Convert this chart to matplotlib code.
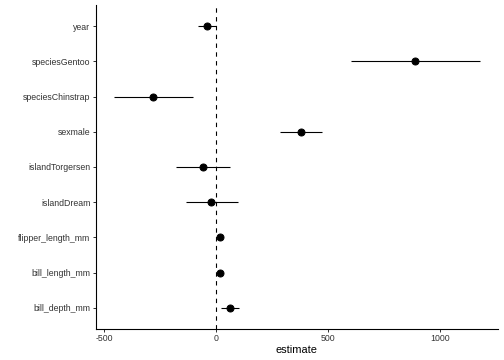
import matplotlib
matplotlib.use("Agg")
import matplotlib.pyplot as plt

terms = ["year", "speciesGentoo", "speciesChinstrap", "sexmale", "islandTorgersen",
         "islandDream", "flipper_length_mm", "bill_length_mm", "bill_depth_mm"]
estimate = [-42, 886, -283, 377, -58, -22, 18, 18, 60]
conf_low = [-83, 600, -457, 283, -181, -136, 10, 8, 20]
conf_high = [1, 1176, -105, 473, 62, 96, 26, 28, 100]
xticks = [-500, 0, 500, 1000]

plt.rcParams['font.family'] = ['Liberation Sans', 'DejaVu Sans']

fig = plt.figure(figsize=(7, 5), dpi=72)
ax = fig.add_axes([95.5/504, 31/360, (498-95.5)/504, (355-31)/360])

n = len(terms)
ypos = [n - i for i in range(n)]

ax.axvline(0, color='black', linestyle=(0, (4, 4)), linewidth=1.1, zorder=1)
ax.hlines(ypos, conf_low, conf_high, color='black', linewidth=1.1, zorder=2)
ax.plot(estimate, ypos, 'o', color='black', markersize=7, zorder=3)

xmin = min(conf_low); xmax = max(conf_high)
pad = (xmax - xmin) * 0.05
ax.set_xlim(xmin - pad, xmax + pad)
ax.set_ylim(0.4, n + 0.6)
ax.set_yticks(ypos)
ax.set_yticklabels(terms)
ax.set_xticks(xticks)
ax.set_xticklabels([str(v) for v in xticks])

for s in ['top', 'right']:
    ax.spines[s].set_visible(False)
for s in ['left', 'bottom']:
    ax.spines[s].set_linewidth(1.1)
    ax.spines[s].set_color('black')

ax.tick_params(axis='both', colors='#333333', labelsize=8.8, length=2.75, width=1.0, pad=2.2)
ax.tick_params(axis='both', color='#333333')
ax.set_xlabel('estimate', fontsize=11, labelpad=2.5)

fig.savefig('out.png', dpi=72)
